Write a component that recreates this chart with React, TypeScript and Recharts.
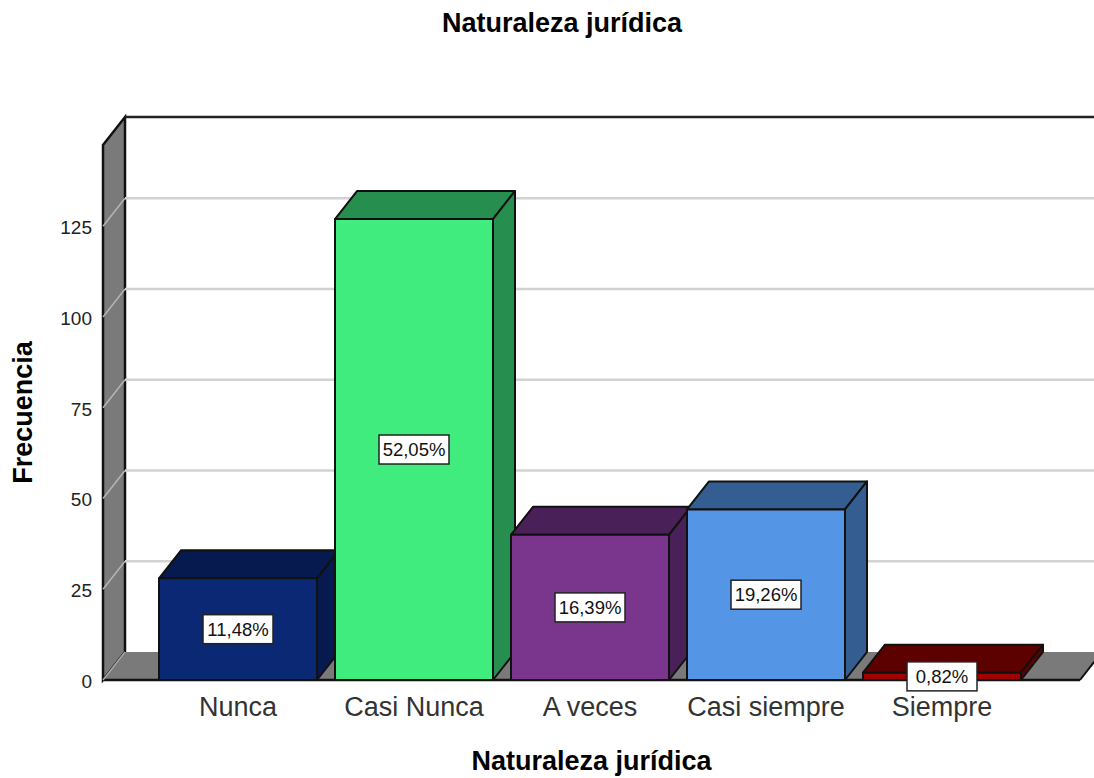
import { BarChart, Bar, XAxis, YAxis, CartesianGrid, Cell, LabelList, ReferenceArea } from "recharts";

const CATEGORIES = ["Nunca", "Casi Nunca", "A veces", "Casi siempre", "Siempre"];
const FREQUENCIES = [28, 127, 40, 47, 2];
const PERCENTS = ["11,48%", "52,05%", "16,39%", "19,26%", "0,82%"];
const FRONT_COLORS = ["#0a2873", "#41ec7f", "#7a358c", "#5595e5", "#a00000"];
const SIDE_COLORS = ["#061a50", "#268f4f", "#4a2058", "#345e92", "#5c0000"];
const Y_TICKS = [0, 25, 50, 75, 100, 125];
const Y_MAX = 147.4;

const data = CATEGORIES.map((name, i) => ({ name, value: FREQUENCIES[i], pct: PERCENTS[i] }));

// depth of the fake 3D projection
const DX = 22;
const DY = -28;
const PAD_LEFT = 47;
const PAD_RIGHT = 50;
const PLOT_TOP = 145;
const FONT = "'Liberation Sans', Arial, sans-serif";
const EDGE = "#111";
const WALL = "#7a7a7a";

function Walls({ x: bandX, y, width: bandWidth, height }: any) {
  // the reference area only spans the bands, the walls go out to the axis padding
  const x = bandX - PAD_LEFT;
  const width = bandWidth + PAD_LEFT + PAD_RIGHT;
  const bottom = y + height;
  return (
    <g>
      <polygon
        points={`${x},${y} ${x + DX},${y + DY} ${x + DX},${bottom + DY} ${x},${bottom}`}
        fill={WALL}
        stroke={EDGE}
        strokeWidth={2.5}
      />
      <polygon
        points={`${x},${bottom} ${x + DX},${bottom + DY} ${x + width + DX},${bottom + DY} ${x + width},${bottom}`}
        fill={WALL}
      />
      <line x1={x} y1={bottom} x2={x + width} y2={bottom} stroke={EDGE} strokeWidth={2.5} />
      <line x1={x + width} y1={bottom} x2={x + width + DX} y2={bottom + DY} stroke={EDGE} strokeWidth={2} />
      <line x1={x} y1={bottom} x2={x + DX} y2={bottom + DY} stroke="#a8a8a8" strokeWidth={1.5} />
      <line x1={x + DX} y1={y + DY} x2={x + width + DX} y2={y + DY} stroke="#222" strokeWidth={2.5} />
    </g>
  );
}

function GridLine({ x1, x2, y1 }: any) {
  // top edge of the plot and the floor edge get no grid line
  if (y1 <= PLOT_TOP + 1 || y1 > 670) return <g />;
  return (
    <g>
      <line x1={x1} y1={y1} x2={x1 + DX} y2={y1 + DY} stroke="#b5b5b5" strokeWidth={1.5} />
      <line x1={x1 + DX} y1={y1 + DY} x2={x2 + DX} y2={y1 + DY} stroke="#d2d2d2" strokeWidth={2.5} />
    </g>
  );
}

function Bar3D({ x, y, width, height, fill, index }: any) {
  const side = SIDE_COLORS[index];
  const right = x + width;
  const bottom = y + height;
  return (
    <g stroke={EDGE} strokeWidth={2} strokeLinejoin="round">
      <polygon points={`${x},${y} ${x + DX},${y + DY} ${right + DX},${y + DY} ${right},${y}`} fill={side} />
      <polygon points={`${right},${y} ${right + DX},${y + DY} ${right + DX},${bottom + DY} ${right},${bottom}`} fill={side} />
      <rect x={x} y={y} width={width} height={height} fill={fill} />
    </g>
  );
}

function PercentLabel({ x, y, width, height, value }: any) {
  const cx = x + width / 2;
  const cy = y + height / 2;
  return (
    <g>
      <rect x={cx - 35} y={cy - 14.5} width={70} height={29} fill="#fff" stroke="#222" strokeWidth={1.5} />
      <text x={cx} y={cy + 6.5} textAnchor="middle" fontFamily={FONT} fontSize={18.5} fill="#111">
        {value}
      </text>
    </g>
  );
}

export default function App() {
  return (
    <div style={{ position: "absolute", left: 0, top: 0, width: 1094, height: 778, overflow: "hidden", background: "#fff" }}>
      <div
        style={{ position: "absolute", left: 0, right: 0, top: 8, textAlign: "center", paddingLeft: 30, font: `bold 27px ${FONT}`, color: "#000" }}
      >
        Naturaleza jurídica
      </div>
      <BarChart width={1094} height={778} data={data} margin={{ top: PLOT_TOP, right: 14, bottom: 0, left: 0 }}>
        <ReferenceArea yAxisId={0} y1={0} y2={Y_MAX} shape={<Walls />} fill="none" stroke="none" ifOverflow="visible" zIndex={-200} />
        <CartesianGrid vertical={false} horizontal={(p: any) => <GridLine {...p} />} zIndex={-100} />
        <XAxis
          dataKey="name"
          interval={0}
          height={98}
          padding={{ left: PAD_LEFT, right: PAD_RIGHT }}
          tickLine={false}
          axisLine={false}
          tickMargin={11}
          tick={{ fontFamily: FONT, fontSize: 27, fill: "#333" }}
          label={{ value: "Naturaleza jurídica", position: "insideBottom", offset: 8, style: { fontFamily: FONT, fontSize: 27, fontWeight: "bold", fill: "#000" } }}
        />
        <YAxis
          width={103}
          domain={[0, Y_MAX]}
          ticks={Y_TICKS}
          tickLine={false}
          axisLine={false}
          tickSize={0}
          tickMargin={11}
          tick={{ fontFamily: FONT, fontSize: 19, fill: "#222", dy: 1 }}
          label={{ value: "Frecuencia", angle: -90, position: "insideLeft", offset: 22, style: { fontFamily: FONT, fontSize: 27, fontWeight: "bold", fill: "#000", textAnchor: "middle" } }}
        />
        <Bar dataKey="value" barSize={158} isAnimationActive={false} shape={<Bar3D />}>
          {data.map((_, i) => (
            <Cell key={i} fill={FRONT_COLORS[i]} />
          ))}
          <LabelList dataKey="pct" content={<PercentLabel />} />
        </Bar>
      </BarChart>
    </div>
  );
}
